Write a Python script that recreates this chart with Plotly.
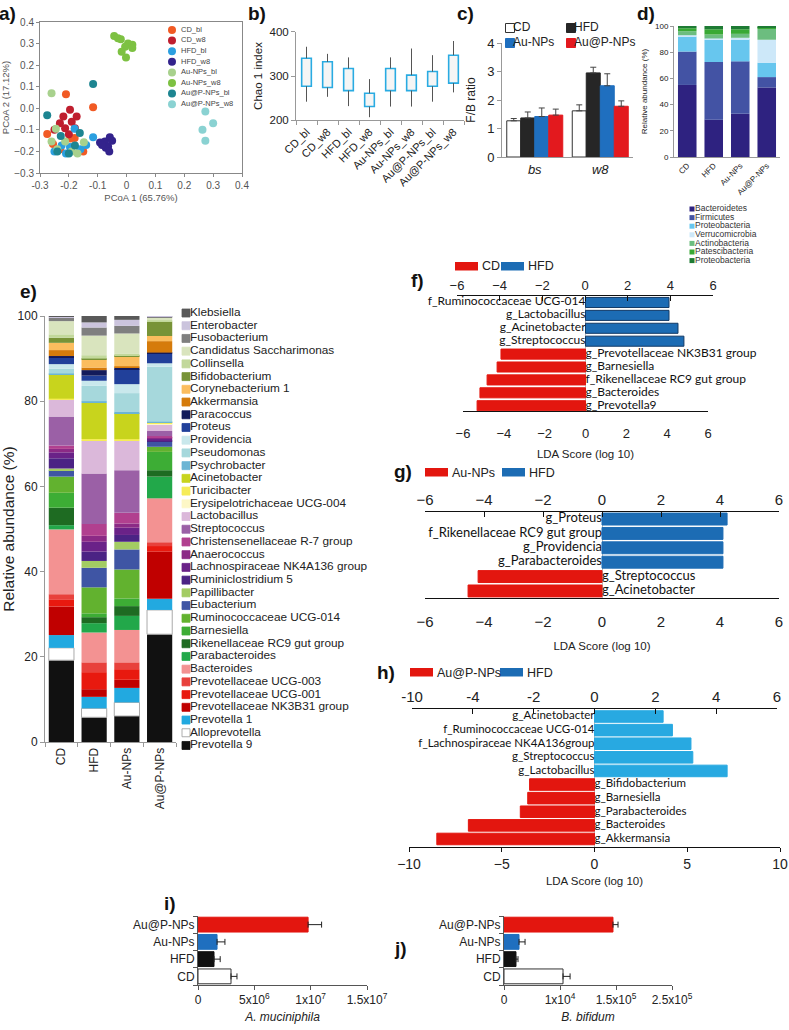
import plotly.graph_objects as go

# ======================= DATA =======================
# (a) PCoA
pcoa_groups = ["CD_bl", "CD_w8", "HFD_bl", "HFD_w8", "Au-NPs_bl", "Au-NPs_w8", "Au@P-NPs_bl", "Au@P-NPs_w8"]
pcoa_colors = ["#f15a24", "#bf1e2e", "#2b9fe0", "#33238c", "#a8d18d", "#7dc142", "#1d8591", "#8ad2d2"]
pcoa_x_ticks = [-0.3, -0.2, -0.1, 0.0, 0.1, 0.2, 0.3, 0.4]
pcoa_x_ticktext = ["-0.3", "-0.2", "-0.1", "0", "0.1", "0.2", "0.3", "0.4"]
cd_bl_x = [-0.21, -0.116, -0.275, -0.18, -0.195, -0.23, -0.15, -0.255]
cd_bl_y = [0.065, 0.005, -0.119, -0.138, -0.14, -0.19, -0.2, -0.165]
cd_w8_x = [-0.196, -0.219, -0.173, -0.231, -0.19, -0.213, -0.179, -0.25, -0.2]
cd_w8_y = [-0.007, -0.038, -0.038, -0.069, -0.062, -0.092, -0.092, -0.1, -0.12]
hfd_bl_x = [-0.18, -0.116, -0.225, -0.196, -0.25, -0.16, -0.21, -0.14]
hfd_bl_y = [-0.095, -0.134, -0.173, -0.18, -0.2, -0.19, -0.21, -0.17]
hfd_w8_x = [-0.092, -0.075, -0.058, -0.064, -0.072, -0.05, -0.085, -0.06]
hfd_w8_y = [-0.159, -0.154, -0.134, -0.177, -0.183, -0.15, -0.17, -0.2]
aunp_bl_x = [-0.26, -0.245, -0.26, -0.213, -0.148, -0.24, -0.19, -0.17]
aunp_bl_y = [0.07, -0.095, -0.154, -0.154, -0.157, -0.19, -0.2, -0.21]
aunp_w8_x = [-0.043, -0.03, -0.02, 0.005, -0.005, 0.02, 0.02, -0.017, -0.002]
aunp_w8_y = [0.335, 0.325, 0.32, 0.3, 0.285, 0.295, 0.28, 0.262, 0.236]
aupnp_bl_x = [-0.116, -0.275, -0.228, -0.162, -0.179, -0.2, -0.24]
aupnp_bl_y = [0.113, -0.032, -0.128, -0.115, -0.173, -0.21, -0.2]
aupnp_w8_x = [0.273, 0.263, 0.3, 0.273]
aupnp_w8_y = [-0.015, -0.1, -0.069, -0.151]

# (b) Chao 1 index box plots
chao_groups = ["CD_bl", "CD_w8", "HFD_bl", "HFD_w8", "Au-NPs_bl", "Au-NPs_w8", "Au@P-NPs_bl", "Au@P-NPs_w8"]
chao_low = [242, 253, 232, 207, 231, 231, 242, 263]
chao_q1 = [277, 274, 267, 231, 267, 267, 277, 284]
chao_q3 = [340, 332, 317, 261, 317, 302, 310, 347]
chao_high = [366, 350, 342, 293, 342, 362, 347, 379]

# (c) F/B ratio
fb_periods = ["bs", "w8"]
fb_groups = ["CD", "HFD", "Au-NPs", "Au@P-NPs"]
fb_cd = [1.27, 1.62]
fb_cd_err = [0.08, 0.21]
fb_hfd = [1.37, 2.95]
fb_hfd_err = [0.21, 0.20]
fb_au = [1.42, 2.50]
fb_au_err = [0.30, 0.42]
fb_aup = [1.47, 1.78]
fb_aup_err = [0.21, 0.19]

# (d) phyla
d_groups = ["CD", "HFD", "Au-NPs", "Au@P-NPs"]
phyla_names = ["Bacteroidetes", "Firmicutes", "Proteobacteria", "Verrucomicrobia",
               "Actinobacteria", "Patescibacteria", "Proteobacteria"]
bacteroidetes = [55.0, 28.5, 33.0, 53.0]
firmicutes = [25.5, 44.0, 40.0, 8.0]
proteobacteria = [11.5, 17.0, 17.0, 11.0]
verrucomicrobia = [1.0, 1.0, 1.0, 17.5]
actinobacteria = [3.0, 3.0, 3.0, 8.5]
patescibacteria = [2.3, 4.0, 3.5, 1.2]
proteobacteria_2 = [1.7, 2.5, 2.5, 0.8]

# (e) genera (bottom of stack first)
e_groups = ["CD", "HFD", "Au-NPs", "Au@P-NPs"]
genera = ["Prevotella 9", "Alloprevotella", "Prevotella 1", "Prevotellaceae NK3B31 group",
          "Prevotellaceae UCG-001", "Prevotellaceae UCG-003", "Bacteroides", "Parabacteroides",
          "Rikenellaceae RC9 gut group", "Barnesiella", "Ruminococcaceae UCG-014", "Eubacterium",
          "Papillibacter", "Ruminiclostridium 5", "Lachnospiraceae NK4A136 group", "Anaerococcus",
          "Christensenellaceae R-7 group", "Streptococcus", "Lactobacillus",
          "Erysipelotrichaceae UCG-004", "Turicibacter", "Acinetobacter", "Psychrobacter",
          "Pseudomonas", "Providencia", "Proteus", "Paracoccus", "Akkermansia",
          "Corynebacterium 1", "Bifidobacterium", "Collinsella", "Candidatus Saccharimonas",
          "Fusobacterium", "Enterobacter", "Klebsiella"]
genus_cd = [19.2, 2.9, 3.0, 6.7, 1.7, 1.2, 15.2, 1.0, 4.1, 3.5, 3.8, 1.5, 0.4, 2.4, 1.4, 0.8, 0.8,
            6.8, 3.9, 0.1, 0.2, 5.7, 0.2, 1.1, 1.1, 1.5, 0.4, 1.4, 1.7, 1.2, 0.8, 3.1, 0.8, 0.3, 0.1]
genus_hfd = [5.8, 2.1, 2.7, 1.8, 4.0, 2.3, 7.0, 2.2, 1.4, 0.9, 6.1, 4.6, 1.6, 2.2, 2.3, 1.4, 2.8,
             11.8, 7.7, 0.1, 0.3, 8.5, 0.4, 3.6, 1.2, 1.2, 1.3, 0.6, 1.9, 0.2, 0.8, 4.6, 1.9, 1.2, 1.5]
genus_au = [6.1, 3.2, 3.4, 1.9, 2.5, 1.6, 7.6, 3.3, 2.3, 1.8, 6.8, 4.7, 1.8, 1.6, 1.7, 1.0, 2.5,
            10.0, 6.9, 0.1, 0.3, 6.1, 0.4, 4.3, 2.1, 3.5, 0.4, 0.3, 2.4, 0.2, 0.3, 4.8, 1.8, 1.4, 0.9]
genus_aup = [25.3, 5.7, 2.6, 11.1, 1.3, 0.9, 10.3, 5.1, 1.5, 4.3, 1.2, 1.2, 0.1, 0.1, 0.5, 0.3, 0.3,
             1.2, 1.6, 0.1, 0.2, 0.2, 0.1, 12.9, 0.8, 2.3, 0.2, 2.7, 1.2, 3.4, 0.3, 0.6, 0.3, 0.1, 0.0]

# (f) LDA CD vs HFD
f_labels = ["f_Ruminococcaceae UCG-014", "g_Lactobacillus", "g_Acinetobacter", "g_Streptococcus",
            "g_Prevotellaceae NK3B31 group", "g_Barnesiella", "f_Rikenellaceae RC9 gut group",
            "g_Bacteroides", "g_Prevotella9"]
f_scores = [4.09, 4.09, 4.53, 4.82, -4.14, -4.33, -4.82, -5.17, -5.31]

# (g) LDA Au-NPs vs HFD
g_labels = ["g_Proteus", "f_Rikenellaceae RC9 gut group", "g_Providencia", "g_Parabacteroides",
            "g_Streptococcus", "g_Acinetobacter"]
g_scores = [4.24, 4.10, 4.10, 4.10, -4.20, -4.54]

# (h) LDA Au@P-NPs vs HFD
h_labels = ["g_Acinetobacter", "f_Ruminococcaceae UCG-014", "f_Lachnospiraceae NK4A136group",
            "g_Streptococcus", "g_Lactobacillus", "g_Bifidobacterium", "g_Barnesiella",
            "g_Parabacteroides", "g_Bacteroides", "g_Akkermansia"]
h_scores = [3.7, 4.2, 5.2, 5.3, 7.15, -3.5, -3.6, -4.0, -6.8, -8.5]

# (i) A. muciniphila, (j) B. bifidum (bottom to top)
qpcr_groups = ["CD", "HFD", "Au-NPs", "Au@P-NPs"]
amuc_vals = [2.93e6, 1.42e6, 1.69e6, 9.77e6]
amuc_err = [0.53e6, 0.55e6, 0.70e6, 1.20e6]
bbif_vals = [5.27e4, 1.07e4, 1.34e4, 9.73e4]
bbif_err = [0.63e4, 0.18e4, 0.54e4, 0.45e4]
amuc_ticks = [0, 5e6, 1e7, 1.5e7]
amuc_ticktext = ["0", "5x10<sup>6</sup>", "1x10<sup>7</sup>", "1.5x10<sup>7</sup>"]
bbif_ticks = [0, 5e4, 1e5, 1.5e5]
bbif_ticktext = ["0", "1x10<sup>4</sup>", "1.5x10<sup>5</sup>", "2.5x10<sup>5</sup>"]
h_top_ticks = [-6, -4, -2, 0, 2, 4, 6]
h_top_ticktext = ["-10", "-4", "-2", "0", "2", "4", "6"]

# ======================= STYLE =======================
FONT = "Liberation Sans"
LFONT = "Lato"
W, H = 789, 1030
RED = "#e3160f"
BLUE = "#1c6cb4"
SKY = "#28a9e1"

phyla_colors = ["#2e2280", "#4353a4", "#67c6ee", "#cde8f9", "#6cbd7f", "#39a935", "#1e7b34"]
genus_colors = ["#111111", "#ffffff", "#22a9e0", "#c00000", "#e8190f", "#e8413c", "#f39292",
                "#22a84a", "#1e6b22", "#3dad35", "#62b22f", "#3f55a4", "#a3cc63", "#4b2384",
                "#6a2288", "#8c2a86", "#b1408f", "#9b60a6", "#dbb8da", "#fdf7c6", "#f6ec58",
                "#c8d41d", "#6cb5d4", "#a6d8dc", "#c9e8ec", "#21409a", "#131b5b", "#d57b0b",
                "#fbbd5e", "#789337", "#c2d89b", "#d9e4be", "#7f7f7f", "#cbc4dd", "#595959"]


def dx(a, b):
    return [a / W, b / W]


def dy(top, bot):
    return [1 - bot / H, 1 - top / H]


def py(v):
    return 1 - v / H


fig = go.Figure()
lay = {}
annotations = []
shapes = []


def axis(**kw):
    d = dict(showgrid=False, zeroline=False, automargin=False)
    d.update(kw)
    return d


def legend_column(k, labels, colors, mx, tx, ytop, step, msize, symbol, fsize,
                  line_colors=None, line_width=0, fcolor="#222"):
    n = len(labels)
    u = tx - mx
    rows = list(range(n))
    xa, ya = "x%d" % k, "y%d" % k
    fig.add_trace(go.Scatter(
        x=[0] * n, y=rows, mode="markers",
        marker=dict(size=msize, symbol=symbol, color=colors,
                    line=dict(color=line_colors if line_colors else colors, width=line_width)),
        xaxis=xa, yaxis=ya, cliponaxis=False, hoverinfo="skip", showlegend=False))
    fig.add_trace(go.Scatter(
        x=[1] * n, y=rows, mode="text", text=labels, textposition="middle right",
        textfont=dict(size=fsize, color=fcolor, family=FONT),
        xaxis=xa, yaxis=ya, cliponaxis=False, hoverinfo="skip", showlegend=False))
    lay["xaxis%d" % k] = dict(domain=dx(mx - 6, tx + 6), range=[-6 / u, 1 + 6 / u],
                              visible=False, anchor=ya)
    lay["yaxis%d" % k] = dict(domain=dy(ytop - step / 2, ytop + step * (n - 0.5)),
                              range=[n - 0.5, -0.5], visible=False, anchor=xa)


def stacked(xa, ya, cats, series, colors, width, group, line_colors=None, line_widths=None):
    base = [0.0] * len(cats)
    for i, vals in enumerate(series):
        lc = line_colors[i] if line_colors else colors[i]
        lw = line_widths[i] if line_widths else 0
        fig.add_trace(go.Bar(
            x=cats, y=vals, base=list(base), width=width, offsetgroup=group,
            marker=dict(color=colors[i], line=dict(color=lc, width=lw)),
            xaxis=xa, yaxis=ya, hoverinfo="skip", showlegend=False))
        base = [b + v for b, v in zip(base, vals)]


def lda_panel(xa, ya, xtop, labels, scores, pos_color, pos_line, width, fsize):
    n = len(labels)
    rows = list(range(n))
    colors = [pos_color if s > 0 else RED for s in scores]
    lcols = [pos_line if s > 0 else RED for s in scores]
    fig.add_trace(go.Bar(
        x=scores, y=rows, orientation="h", width=width, offsetgroup=xa,
        marker=dict(color=colors, line=dict(color=lcols, width=1)),
        xaxis=xa, yaxis=ya, hoverinfo="skip", showlegend=False))
    fig.add_trace(go.Scatter(
        x=[0] * n, y=rows, mode="text", text=labels,
        textposition=["middle left" if s > 0 else "middle right" for s in scores],
        textfont=dict(size=fsize, family=LFONT, color="#111"),
        xaxis=xa, yaxis=ya, cliponaxis=False, hoverinfo="skip", showlegend=False))
    fig.add_trace(go.Scatter(
        x=[0], y=[0], mode="markers", marker=dict(opacity=0, size=1),
        xaxis=xtop, yaxis=ya, hoverinfo="skip", showlegend=False))


# ======================= (a) =======================
pcoa_xs = [cd_bl_x, cd_w8_x, hfd_bl_x, hfd_w8_x, aunp_bl_x, aunp_w8_x, aupnp_bl_x, aupnp_w8_x]
pcoa_ys = [cd_bl_y, cd_w8_y, hfd_bl_y, hfd_w8_y, aunp_bl_y, aunp_w8_y, aupnp_bl_y, aupnp_w8_y]
for name, col, xs, ys in zip(pcoa_groups, pcoa_colors, pcoa_xs, pcoa_ys):
    fig.add_trace(go.Scatter(x=xs, y=ys, mode="markers", name=name,
                             marker=dict(size=8, color=col, line=dict(width=0)),
                             xaxis="x", yaxis="y", showlegend=False, hoverinfo="skip"))
a_tick = dict(showline=True, mirror=True, linecolor="#888", linewidth=1, ticks="outside",
              ticklen=3, tickcolor="#888", tickfont=dict(size=10, color="#555"),
              range=[-0.3, 0.4])
lay["xaxis"] = axis(domain=dx(40, 242), anchor="y", tickvals=pcoa_x_ticks, ticktext=pcoa_x_ticktext,
                    title=dict(text="PCoA 1 (65.76%)", font=dict(size=9.5, color="#555"), standoff=4),
                    **a_tick)
lay["yaxis"] = axis(domain=dy(22, 173), anchor="x", dtick=0.1, tick0=-0.3, tickformat=".1f",
                    title=dict(text="PCoA 2 (17.12%)", font=dict(size=9.5, color="#555"), standoff=6),
                    **a_tick)
legend_column(2, pcoa_groups, pcoa_colors, 172, 181, 30, 10.6, 8, "circle", 7.5, fcolor="#444")

# ======================= (b) =======================
fig.add_trace(go.Bar(x=chao_groups, y=[h - l for h, l in zip(chao_q3, chao_q1)], base=chao_q1,
                     width=0.46, offsetgroup="b",
                     marker=dict(color="#f5f5f5", line=dict(color="#29abe2", width=1.6)),
                     xaxis="x3", yaxis="y3", hoverinfo="skip", showlegend=False))
wx, wy = [], []
for g, lo, q1, q3, hi in zip(chao_groups, chao_low, chao_q1, chao_q3, chao_high):
    wx += [g, g, None, g, g, None]
    wy += [lo, q1, None, q3, hi, None]
fig.add_trace(go.Scatter(x=wx, y=wy, mode="lines", line=dict(color="#555", width=1),
                         xaxis="x3", yaxis="y3", hoverinfo="skip", showlegend=False))
lay["xaxis3"] = axis(domain=dx(296, 464), anchor="y3", type="category", range=[-0.5, 7.5],
                     tickangle=-45, tickfont=dict(size=11), showline=True, linecolor="#999",
                     ticks="outside", tickson="boundaries", ticklen=4, tickcolor="#999")
lay["yaxis3"] = axis(domain=dy(31.7, 120.3), anchor="x3", range=[200, 400], dtick=100,
                     tickfont=dict(size=11.5), showline=True, linecolor="#999", ticks="outside",
                     ticklen=4, tickcolor="#999",
                     title=dict(text="Chao 1 index", font=dict(size=11.5), standoff=4))

# ======================= (c) =======================
fb_vals = [fb_cd, fb_hfd, fb_au, fb_aup]
fb_errs = [fb_cd_err, fb_hfd_err, fb_au_err, fb_aup_err]
fb_fill = ["#ffffff", "#262626", "#1f6fbf", "#e3191e"]
fb_line = ["#333333", "#262626", "#1f6fbf", "#e3191e"]
for i, (vals, errs) in enumerate(zip(fb_vals, fb_errs)):
    fig.add_trace(go.Bar(
        x=fb_periods, y=vals, offsetgroup="c%d" % i,
        marker=dict(color=fb_fill[i], line=dict(color=fb_line[i], width=1)),
        error_y=dict(type="data", array=errs, arrayminus=[0] * len(errs), symmetric=False,
                     color="#444", thickness=1, width=3),
        xaxis="x4", yaxis="y4", hoverinfo="skip", showlegend=False))
lay["xaxis4"] = axis(domain=dx(502, 633), anchor="y4", type="category", range=[-0.5, 1.5],
                     tickvals=fb_periods, ticktext=["<i>%s</i>" % p for p in fb_periods],
                     tickfont=dict(size=13), showline=True, linecolor="#999", ticks="")
lay["yaxis4"] = axis(domain=dy(43, 157), anchor="x4", range=[0, 4], dtick=1,
                     tickfont=dict(size=13), showline=True, linecolor="#999", ticks="outside",
                     ticklen=4, tickcolor="#999",
                     title=dict(text="F/B ratio", font=dict(size=12), standoff=8))
legend_column(5, [fb_groups[0], fb_groups[2]], [fb_fill[0], fb_fill[2]], 510, 513, 28, 15, 9,
              "square", 12, line_colors=[fb_line[0], fb_line[2]], line_width=1)
legend_column(18, [fb_groups[1], fb_groups[3]], [fb_fill[1], fb_fill[3]], 571, 574, 28, 15, 9,
              "square", 12, line_colors=[fb_line[1], fb_line[3]], line_width=1)

# ======================= (d) =======================
phyla_series = [bacteroidetes, firmicutes, proteobacteria, verrucomicrobia, actinobacteria,
                patescibacteria, proteobacteria_2]
stacked("x6", "y6", d_groups, phyla_series, phyla_colors, 0.7, "d")
lay["xaxis6"] = axis(domain=dx(674, 780), anchor="y6", type="category", range=[-0.5, 3.5],
                     tickangle=-45, tickfont=dict(size=8), showline=True, linecolor="#999")
lay["yaxis6"] = axis(domain=dy(26, 157), anchor="x6", range=[0, 100], dtick=20,
                     tickfont=dict(size=8), showline=True, linecolor="#999", ticks="outside",
                     ticklen=3, tickcolor="#999",
                     title=dict(text="Relative abundance (%)", font=dict(size=8), standoff=6))
legend_column(7, phyla_names, phyla_colors, 692, 695, 209, 8.6, 5, "square", 8.5, fcolor="#333")

# ======================= (e) =======================
genus_series = [[c, h, a, p] for c, h, a, p in zip(genus_cd, genus_hfd, genus_au, genus_aup)]
genus_lines = ["#aaaaaa" if g == "Alloprevotella" else c for g, c in zip(genera, genus_colors)]
genus_lw = [1 if g == "Alloprevotella" else 0 for g in genera]
stacked("x8", "y8", e_groups, genus_series, genus_colors, 0.77, "e", genus_lines, genus_lw)
lay["xaxis8"] = axis(domain=dx(45, 176), anchor="y8", type="category", range=[-0.5, 3.5],
                     tickangle=-90, tickfont=dict(size=12), showline=True, linecolor="#999",
                     ticks="outside", tickson="boundaries", ticklen=4, tickcolor="#999")
lay["yaxis8"] = axis(domain=dy(316, 742), anchor="x8", range=[0, 100], dtick=20,
                     tickfont=dict(size=12), showline=True, linecolor="#999", ticks="outside",
                     ticklen=4, tickcolor="#999",
                     title=dict(text="Relative abundance (%)", font=dict(size=15.5), standoff=2))
legend_column(9, genera[::-1], genus_colors[::-1], 186, 190, 313, 12.72, 8, "square", 11.8,
              line_colors=["#999999" if g == "Alloprevotella" else c
                           for g, c in zip(genera[::-1], genus_colors[::-1])],
              line_width=0.8)

# ======================= (f) =======================
lda_panel("x10", "y10", "x11", f_labels, f_scores, BLUE, "#123a66", 0.78, 12)
n_f = len(f_labels)
lay["xaxis10"] = axis(domain=dx(463, 708), anchor="y10", range=[-6, 6], dtick=2,
                      showline=True, linecolor="#111", ticks="", tickfont=dict(size=13),
                      ticklabelstandoff=10, zeroline=True, zerolinecolor="#bbbbbb", zerolinewidth=1,
                      title=dict(text="LDA Score (log 10)", font=dict(size=11.5), standoff=10))
lay["yaxis10"] = axis(domain=dy(295, 411), anchor="x10", range=[n_f - 1 + 0.41, -0.58], visible=False)
lay["xaxis11"] = axis(domain=dx(457, 713), anchor="free", position=py(295), side="top",
                      range=[-6, 6], dtick=2, showline=True, linecolor="#111", ticks="inside",
                      ticklen=5, tickcolor="#111", tickfont=dict(size=13))

# ======================= (g) =======================
lda_panel("x12", "y12", "x13", g_labels, g_scores, BLUE, BLUE, 0.83, 13)
n_g = len(g_labels)
lay["xaxis12"] = axis(domain=dx(425, 779), anchor="y12", range=[-6, 6], dtick=2,
                      showline=True, linecolor="#111", ticks="", tickfont=dict(size=15),
                      ticklabelstandoff=10, zeroline=True, zerolinecolor="#bbbbbb", zerolinewidth=1,
                      title=dict(text="LDA Score (log 10)", font=dict(size=11.5), standoff=12))
lay["yaxis12"] = axis(domain=dy(511, 598), anchor="x12", range=[n_g - 1 + 0.49, -0.56], visible=False)
lay["xaxis13"] = axis(domain=dx(425, 779), anchor="free", position=py(511), side="top",
                      range=[-6, 6], dtick=2, showline=True, linecolor="#111", ticks="inside",
                      ticklen=5, tickcolor="#111", tickfont=dict(size=15))

# ======================= (h) =======================
lda_panel("x14", "y14", "x15", h_labels, h_scores, SKY, SKY, 0.85, 11.5)
n_h = len(h_labels)
lay["xaxis14"] = axis(domain=dx(409, 780), anchor="y14", range=[-10, 10], dtick=5,
                      showline=True, linecolor="#111", ticks="outside", ticklen=4, tickcolor="#111",
                      tickfont=dict(size=14), zeroline=True, zerolinecolor="#bbbbbb", zerolinewidth=1,
                      title=dict(text="LDA Score (log 10)", font=dict(size=11.5), standoff=6))
lay["yaxis14"] = axis(domain=dy(708, 847), anchor="x14", range=[n_h - 1 + 0.59, -0.625], visible=False)
lay["xaxis15"] = axis(domain=dx(412, 777), anchor="free", position=py(708), side="top",
                      range=[-6, 6], tickvals=h_top_ticks, ticktext=h_top_ticktext,
                      showline=True, linecolor="#111", ticks="inside", ticklen=5, tickcolor="#111",
                      tickfont=dict(size=15))

# ======================= (i) & (j) =======================
q_fill = ["#ffffff", "#111111", "#1f6fbf", RED]
q_line = ["#333333", "#111111", "#1f6fbf", RED]
for xa, ya, vals, errs in [("x16", "y16", amuc_vals, amuc_err), ("x17", "y17", bbif_vals, bbif_err)]:
    fig.add_trace(go.Bar(
        x=vals, y=qpcr_groups, orientation="h", width=0.86, offsetgroup=xa,
        marker=dict(color=q_fill, line=dict(color=q_line, width=1)),
        error_x=dict(type="data", array=errs, arrayminus=[0] * len(errs), symmetric=False,
                     color="#222", thickness=1, width=3),
        xaxis=xa, yaxis=ya, hoverinfo="skip", showlegend=False))
q_x = dict(showline=True, linecolor="#555", ticks="outside", ticklen=4, tickcolor="#555",
           tickfont=dict(size=12))
q_y = dict(type="category", showline=True, linecolor="#555", ticks="outside", ticklen=4,
           tickcolor="#555", tickson="boundaries", tickfont=dict(size=12), range=[-0.5, 3.5])
lay["xaxis16"] = axis(domain=dx(198, 367), anchor="y16", range=[0, 1.5e7], tickvals=amuc_ticks,
                      ticktext=amuc_ticktext,
                      title=dict(text="<i>A. muciniphila</i>", font=dict(size=12), standoff=6), **q_x)
lay["yaxis16"] = axis(domain=dy(916, 985), anchor="x16", **q_y)
lay["xaxis17"] = axis(domain=dx(504, 672), anchor="y17", range=[0, 1.5e5], tickvals=bbif_ticks,
                      ticktext=bbif_ticktext,
                      title=dict(text="<i>B. bifidum</i>", font=dict(size=12), standoff=6), **q_x)
lay["yaxis17"] = axis(domain=dy(916, 985), anchor="x17", **q_y)

# ======================= LDA legends (keys) =======================
lda_keys = [
    (262, 455, "CD", 501, "HFD", BLUE),
    (468, 425, "Au-NPs", 502, "HFD", BLUE),
    (668, 410, "Au@P-NPs", 500, "HFD", BLUE),
]
for top, rx, rlab, bx, blab, bcol in lda_keys:
    for x0, lab, col in [(rx, rlab, RED), (bx, blab, bcol)]:
        shapes.append(dict(type="rect", xref="paper", yref="paper",
                           x0=x0 / W, x1=(x0 + 23) / W, y0=py(top + 8.5), y1=py(top),
                           fillcolor=col, line=dict(width=0)))
        annotations.append(dict(x=(x0 + 25) / W, y=py(top + 4.5), xref="paper", yref="paper",
                                text=lab, showarrow=False, xanchor="left", yanchor="middle",
                                font=dict(size=12.5, family=FONT, color="#222")))

# ======================= panel letters =======================
panel_letters = [("a)", 8, 13), ("b)", 257, 14), ("c)", 465, 14), ("d)", 646, 14),
                 ("e)", 28, 292), ("f)", 417, 281), ("g)", 403, 471), ("h)", 386, 672),
                 ("i)", 170, 903), ("j)", 400, 948)]
for t, x, y in panel_letters:
    annotations.append(dict(x=x / W, y=py(y), xref="paper", yref="paper", text="<b>%s</b>" % t,
                            showarrow=False, xanchor="center", yanchor="middle",
                            font=dict(size=19, family=FONT, color="#111")))

fig.update_layout(
    width=W, height=H, margin=dict(l=0, r=0, t=0, b=0), template="none",
    paper_bgcolor="white", plot_bgcolor="rgba(0,0,0,0)",
    barmode="group", bargap=0.145, bargroupgap=0, showlegend=False,
    font=dict(family=FONT, color="#222"),
    annotations=annotations, shapes=shapes, **lay)

fig.write_html("out.html", config={"displayModeBar": False},
               post_script="document.body.style.margin='0px';document.body.style.padding='0px';")
